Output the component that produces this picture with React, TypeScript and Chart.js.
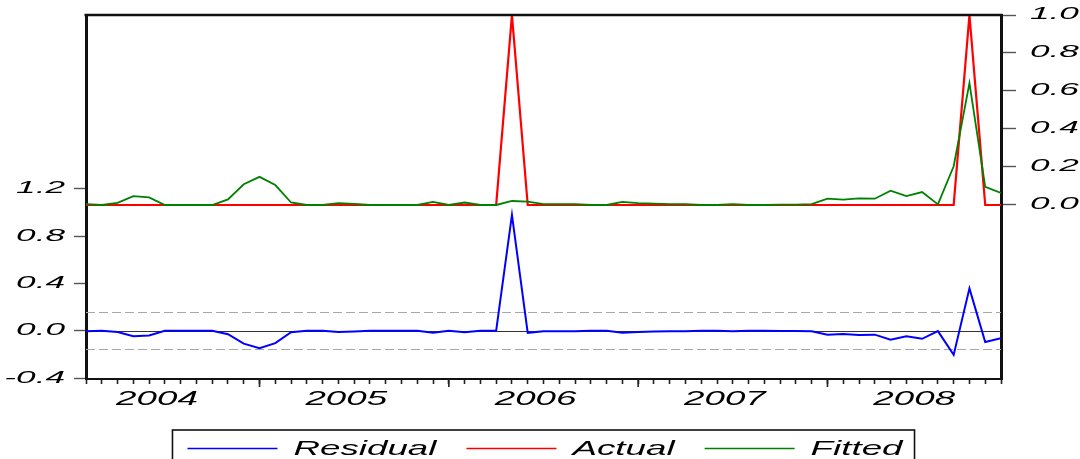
import React, { useEffect, useRef } from 'react';
import { Chart, registerables } from 'chart.js';

Chart.register(...registerables);

// Monthly sample 2004M02 .. 2008M12 (59 observations, x = observation index)
const YEARS = ['2004', '2005', '2006', '2007', '2008'];
const YEAR_LABEL_POS = [4.5, 16.5, 28.5, 40.5, 52.5];
const YEAR_START_TICKS = [11, 23, 35, 47];
const N_OBS = 59;

const ACTUAL = [
  0, 0, 0, 0, 0, 0, 0, 0, 0, 0,
  0, 0, 0, 0, 0, 0, 0, 0, 0, 0,
  0, 0, 0, 0, 0, 0, 0, 1, 0, 0,
  0, 0, 0, 0, 0, 0, 0, 0, 0, 0,
  0, 0, 0, 0, 0, 0, 0, 0, 0, 0,
  0, 0, 0, 0, 0, 0, 1, 0, 0,
];

const FITTED = [
  0.005, 0.0, 0.011, 0.047, 0.040, 0.0, 0.0, 0.0, 0.0, 0.029,
  0.109, 0.148, 0.105, 0.013, 0.0, 0.0, 0.010, 0.006, 0.0, 0.0,
  0.0, 0.0, 0.016, 0.0, 0.013, 0.0, 0.0, 0.021, 0.018, 0.005,
  0.004, 0.005, 0.0, 0.0, 0.016, 0.010, 0.007, 0.004, 0.005, 0.0,
  0.0, 0.004, 0.0, 0.0, 0.002, 0.002, 0.004, 0.033, 0.028, 0.035,
  0.033, 0.075, 0.047, 0.068, 0.003, 0.204, 0.642, 0.095, 0.063,
];

const RESIDUAL = [
  -0.005, 0.0, -0.011, -0.047, -0.040, 0.0, 0.0, 0.0, 0.0, -0.029,
  -0.109, -0.148, -0.105, -0.013, 0.0, 0.0, -0.010, -0.006, 0.0, 0.0,
  0.0, 0.0, -0.016, 0.0, -0.013, 0.0, 0.0, 0.979, -0.018, -0.005,
  -0.004, -0.005, 0.0, 0.0, -0.016, -0.010, -0.007, -0.004, -0.005, 0.0,
  0.0, -0.004, 0.0, 0.0, -0.002, -0.002, -0.004, -0.033, -0.028, -0.035,
  -0.033, -0.075, -0.047, -0.068, -0.003, -0.204, 0.358, -0.095, -0.063,
];

const LEFT_TICKS = [-0.4, 0.0, 0.4, 0.8, 1.2];
const RIGHT_TICKS = [0.0, 0.2, 0.4, 0.6, 0.8, 1.0];
const LEFT_RANGE = [-0.408, 2.669];
const RIGHT_RANGE = [-0.916, 1.0];
const RESID_SE = 0.155;

const SERIES_LABELS = ['Residual', 'Actual', 'Fitted'];
const SERIES_COLORS = ['#0000ff', '#ff0000', '#008000'];

const FONT = "'Liberation Sans', Arial, sans-serif";
const STRETCH: Record<string, number> = { x: 1.75, y: 2.2, y1: 2.2 };

const toPoints = (arr: number[]) => arr.map((v, i) => ({ x: i, y: v }));

const noPad = (s: any) => {
  s.paddingTop = 0;
  s.paddingBottom = 0;
  s.paddingLeft = 0;
  s.paddingRight = 0;
};

const stretchPlugin = {
  id: 'stretchLabels',
  beforeDraw(chart: any) {
    Object.keys(chart.scales).forEach((id) => {
      const scale = chart.scales[id];
      if (scale.__stretched) return;
      scale.__stretched = true;
      const sx = STRETCH[id] ?? 1;
      scale.drawLabels = function (chartArea: any) {
        if (!this.options.ticks.display) return;
        const ctx = this.ctx;
        const items = this.getLabelItems(chartArea);
        for (const item of items) {
          const o = item.options;
          const label = Array.isArray(item.label) ? item.label.join(' ') : String(item.label);
          if (!label) continue;
          ctx.save();
          ctx.translate(o.translation[0], o.translation[1]);
          if (o.rotation) ctx.rotate(o.rotation);
          ctx.scale(sx, 1);
          ctx.font = item.font.string;
          ctx.fillStyle = o.color;
          ctx.textAlign = o.textAlign;
          ctx.textBaseline = o.textBaseline;
          ctx.fillText(label, 0, item.textOffset);
          ctx.restore();
        }
      };
    });
  },
};

const refLinesPlugin = {
  id: 'residRefLines',
  beforeDatasetsDraw(chart: any) {
    const { ctx, chartArea: ca } = chart;
    const y = chart.scales.y;
    ctx.save();
    ctx.lineWidth = 1;
    ctx.strokeStyle = '#333';
    const y0 = Math.round(y.getPixelForValue(0)) + 0.5;
    ctx.beginPath();
    ctx.moveTo(ca.left, y0);
    ctx.lineTo(ca.right, y0);
    ctx.stroke();
    ctx.strokeStyle = '#a8a8a8';
    ctx.setLineDash([9, 4]);
    [RESID_SE, -RESID_SE].forEach((v) => {
      const yp = Math.round(y.getPixelForValue(v)) + 0.5;
      ctx.beginPath();
      ctx.moveTo(ca.left, yp);
      ctx.lineTo(ca.right, yp);
      ctx.stroke();
    });
    ctx.restore();
  },
};

const framePlugin = {
  id: 'frameAndLegend',
  afterDraw(chart: any) {
    const { ctx, chartArea: ca } = chart;
    const xs = chart.scales.x;
    ctx.save();
    // top frame line
    ctx.strokeStyle = '#111';
    ctx.lineWidth = 2.5;
    ctx.beginPath();
    ctx.moveTo(ca.left - 1.5, ca.top);
    ctx.lineTo(ca.right + 1.5, ca.top);
    ctx.stroke();
    // longer ticks at year starts
    ctx.lineWidth = 1.6;
    ctx.strokeStyle = '#222';
    YEAR_START_TICKS.forEach((v) => {
      const xp = xs.getPixelForValue(v);
      ctx.beginPath();
      ctx.moveTo(xp, ca.bottom);
      ctx.lineTo(xp, ca.bottom + 8);
      ctx.stroke();
    });

    // legend
    const LS = 1.75;
    ctx.font = `italic 21px ${FONT}`;
    const items = chart.data.datasets.map((ds: any) => ({
      label: ds.label,
      color: ds.borderColor,
      w: ctx.measureText(ds.label).width * LS,
    }));
    const lineLen = 90;
    const gapLT = 16;
    const gapItems = 30;
    const padL = 15;
    const padR = 12;
    const total =
      padL + padR +
      items.reduce((s: number, it: any) => s + lineLen + gapLT + it.w, 0) +
      gapItems * (items.length - 1);
    const left = (ca.left + ca.right) / 2 - total / 2;
    const top = chart.height - 29;
    ctx.strokeStyle = '#111';
    ctx.lineWidth = 1.6;
    ctx.strokeRect(left, top, total, 60);
    let x = left + padL;
    items.forEach((it: any) => {
      ctx.strokeStyle = it.color;
      ctx.lineWidth = 1.5;
      ctx.beginPath();
      ctx.moveTo(x, top + 18.5);
      ctx.lineTo(x + lineLen, top + 18.5);
      ctx.stroke();
      x += lineLen + gapLT;
      ctx.save();
      ctx.translate(x, top + 24.5);
      ctx.scale(LS, 1);
      ctx.fillStyle = '#000';
      ctx.textAlign = 'left';
      ctx.textBaseline = 'alphabetic';
      ctx.fillText(it.label, 0, 0);
      ctx.restore();
      x += it.w + gapItems;
    });
    ctx.restore();
  },
};

export default function App() {
  const ref = useRef<HTMLCanvasElement | null>(null);

  useEffect(() => {
    const canvas = ref.current;
    if (!canvas) return;
    const xTickValues: number[] = [];
    for (let i = 0; i < N_OBS; i++) xTickValues.push(i);
    const allX = [...xTickValues, ...YEAR_LABEL_POS].sort((a, b) => a - b);

    const chart = new Chart(canvas, {
      type: 'line',
      data: {
        datasets: [
          {
            label: SERIES_LABELS[0],
            data: toPoints(RESIDUAL),
            borderColor: SERIES_COLORS[0],
            backgroundColor: SERIES_COLORS[0],
            borderWidth: 2,
            pointRadius: 0,
            tension: 0,
            yAxisID: 'y',
            order: 2,
          },
          {
            label: SERIES_LABELS[1],
            data: toPoints(ACTUAL),
            borderColor: SERIES_COLORS[1],
            backgroundColor: SERIES_COLORS[1],
            borderWidth: 2.2,
            pointRadius: 0,
            tension: 0,
            yAxisID: 'y1',
            order: 1,
          },
          {
            label: SERIES_LABELS[2],
            data: toPoints(FITTED),
            borderColor: SERIES_COLORS[2],
            backgroundColor: SERIES_COLORS[2],
            borderWidth: 1.8,
            pointRadius: 0,
            tension: 0,
            yAxisID: 'y1',
            order: 0,
          },
        ],
      },
      options: {
        responsive: false,
        maintainAspectRatio: false,
        animation: false,
        devicePixelRatio: 1,
        layout: { padding: { top: 15, bottom: 40, left: 0, right: 0 } },
        plugins: {
          legend: { display: false },
          tooltip: { enabled: false },
          title: { display: false },
        },
        scales: {
          x: {
            type: 'linear',
            position: 'bottom',
            min: 0,
            max: N_OBS - 1,
            afterBuildTicks: (s: any) => {
              s.ticks = allX.map((v) => ({ value: v }));
            },
            afterFit: (s: any) => {
              s.height = 40;
              noPad(s);
            },
            ticks: {
              autoSkip: false,
              maxRotation: 0,
              minRotation: 0,
              padding: 3,
              color: '#000',
              font: { family: FONT, size: 21, style: 'italic' },
              callback: (v: any) => {
                const k = YEAR_LABEL_POS.indexOf(Number(v));
                return k >= 0 ? YEARS[k] : '';
              },
            },
            grid: {
              drawOnChartArea: false,
              drawTicks: true,
              tickLength: 5,
              tickWidth: 1.6,
              tickColor: (c: any) =>
                Number.isInteger(c.tick?.value) ? '#222' : 'rgba(0,0,0,0)',
            },
            border: { display: true, color: '#111', width: 2 },
          },
          y: {
            type: 'linear',
            position: 'left',
            min: LEFT_RANGE[0],
            max: LEFT_RANGE[1],
            afterBuildTicks: (s: any) => {
              s.ticks = LEFT_TICKS.map((v) => ({ value: v }));
            },
            afterFit: (s: any) => {
              s.width = 86;
              noPad(s);
            },
            ticks: {
              padding: 9,
              color: '#000',
              font: { family: FONT, size: 16, style: 'italic' },
              callback: (v: any) => Number(v).toFixed(1),
            },
            grid: {
              drawOnChartArea: false,
              drawTicks: true,
              tickLength: 12,
              tickWidth: 1.4,
              tickColor: '#555',
            },
            border: { display: true, color: '#111', width: 3 },
          },
          y1: {
            type: 'linear',
            position: 'right',
            min: RIGHT_RANGE[0],
            max: RIGHT_RANGE[1],
            afterBuildTicks: (s: any) => {
              s.ticks = RIGHT_TICKS.map((v) => ({ value: v }));
            },
            afterFit: (s: any) => {
              s.width = 79;
              noPad(s);
            },
            ticks: {
              padding: 14,
              color: '#000',
              font: { family: FONT, size: 16, style: 'italic' },
              callback: (v: any) => Number(v).toFixed(1),
            },
            grid: {
              drawOnChartArea: false,
              drawTicks: true,
              tickLength: 15,
              tickWidth: 1.4,
              tickColor: '#555',
            },
            border: { display: true, color: '#111', width: 3 },
          },
        },
      } as any,
      plugins: [stretchPlugin, refLinesPlugin, framePlugin],
    });

    return () => chart.destroy();
  }, []);

  return (
    <div
      style={{
        position: 'fixed',
        left: 0,
        top: 0,
        width: 1080,
        height: 459,
        background: '#fff',
        overflow: 'hidden',
      }}
    >
      <canvas
        ref={ref}
        width={1080}
        height={459}
        style={{ display: 'block', width: 1080, height: 459 }}
      />
    </div>
  );
}
